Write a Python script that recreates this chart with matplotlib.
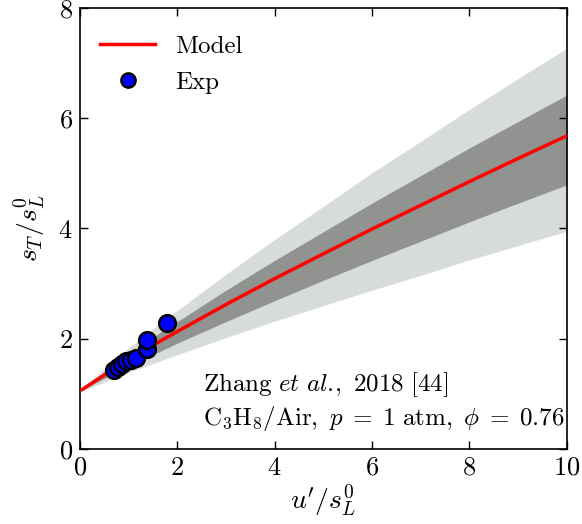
import matplotlib
matplotlib.use("Agg")
import matplotlib.pyplot as plt

plt.rcParams['font.family'] = 'serif'
plt.rcParams['font.serif'] = ['cmr10', 'DejaVu Serif']
plt.rcParams['mathtext.fontset'] = 'cm'
plt.rcParams['axes.formatter.use_mathtext'] = True

# model curve and uncertainty bands
u = [0.05, 0.5, 1, 1.5, 2, 3, 4, 5, 6, 7, 8, 9, 10]
model = [1.08, 1.34, 1.62, 1.88, 2.13, 2.62, 3.09, 3.54, 3.99, 4.42, 4.85, 5.27, 5.68]
outer_hi = [1.10, 1.46, 1.83, 2.18, 2.51, 3.17, 3.80, 4.40, 5.01, 5.58, 6.16, 6.72, 7.27]
inner_hi = [1.09, 1.40, 1.72, 2.03, 2.31, 2.88, 3.42, 3.94, 4.46, 4.96, 5.46, 5.94, 6.42]
inner_lo = [1.07, 1.28, 1.50, 1.71, 1.92, 2.31, 2.69, 3.06, 3.42, 3.77, 4.12, 4.46, 4.79]
outer_lo = [1.06, 1.21, 1.39, 1.55, 1.71, 2.02, 2.32, 2.60, 2.88, 3.15, 3.43, 3.69, 3.95]

# experiments
exp_u = [0.70, 0.78, 0.86, 0.95, 1.05, 1.15, 1.38, 1.38, 1.80]
exp_s = [1.43, 1.48, 1.55, 1.60, 1.62, 1.65, 1.82, 1.98, 2.29]

fig = plt.figure(figsize=(5.82, 5.24), dpi=100)
ax = fig.add_axes([0.137, 0.143, 0.837, 0.842])

ax.fill_between(u, outer_lo, outer_hi, color='#d8dcd8', lw=0)
ax.fill_between(u, inner_lo, inner_hi, color='#919390', lw=0)
ax.plot(u, model, color='red', lw=2.5, label='Model', zorder=3)
ax.plot(exp_u, exp_s, 'o', ms=12, mfc='blue', mec='black', mew=1.8,
        label='Exp', zorder=4)

ax.set_xlim(0, 10)
ax.set_ylim(0, 8)
ax.set_xticks([0, 2, 4, 6, 8, 10])
ax.set_yticks([0, 2, 4, 6, 8])
ax.tick_params(direction='in', top=True, right=True, length=6, width=1,
               labelsize=19, pad=5)
for sp in ax.spines.values():
    sp.set_linewidth(1.2)

ax.set_xlabel(r"$u'/s_L^0$", fontsize=20, labelpad=2)
ax.set_ylabel(r"$s_T/s_L^0$", fontsize=20, labelpad=8)

ax.legend(loc='upper left', bbox_to_anchor=(-0.014, 1.0), frameon=False,
          fontsize=18, handlelength=2.2, handletextpad=0.8, borderaxespad=0.7,
          labelspacing=0.55, markerscale=0.85)

ax.text(0.253, 0.145, r"$\mathrm{Zhang}\ \mathit{et\ al.}\!,\ \mathrm{2018\ [44]}$",
        transform=ax.transAxes, fontsize=18, va='center')
ax.text(0.253, 0.07,
        r"$\mathrm{C_3H_8/Air},\ p\;=\;1\ \mathrm{atm},\ \phi\;=\;0.76$",
        transform=ax.transAxes, fontsize=18, va='center')

fig.savefig("out.png", dpi=100)
